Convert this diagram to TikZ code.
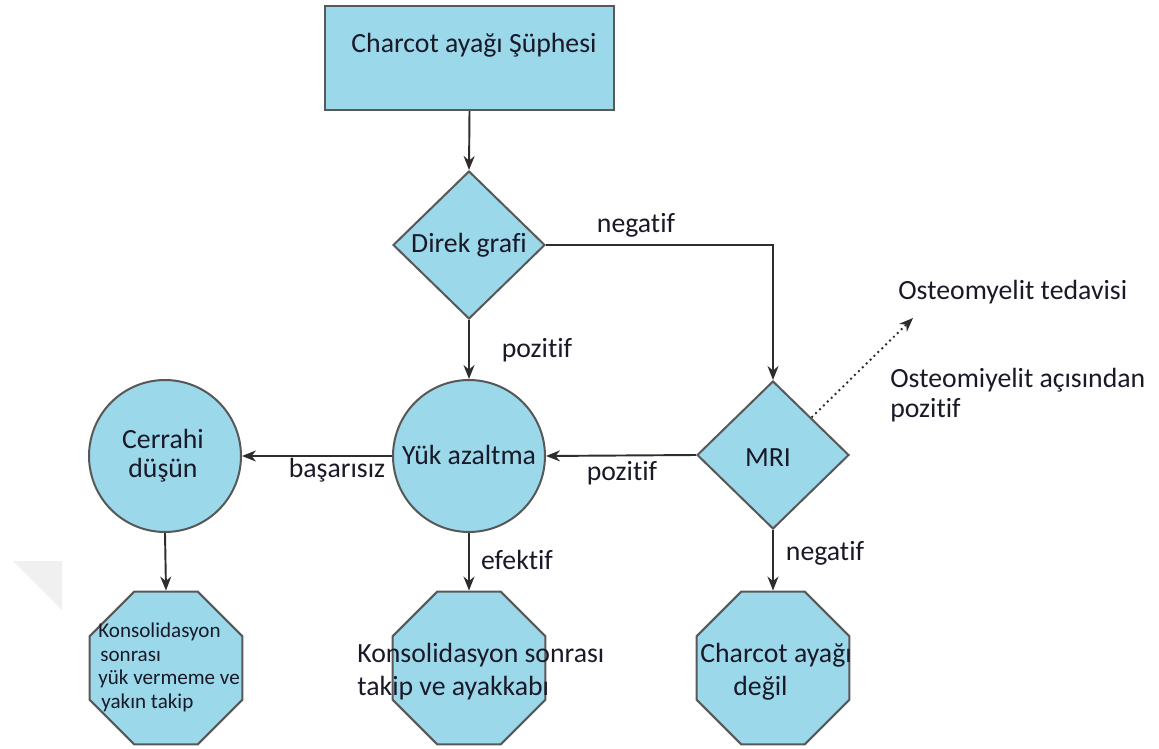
\documentclass[tikz,border=0pt]{standalone}
\usepackage{fontspec}
\setmainfont{Carlito}[Ligatures={NoCommon}]
\usetikzlibrary{shapes.geometric,arrows.meta}
\definecolor{boxfill}{RGB}{155,216,234}
\definecolor{boxline}{RGB}{88,88,88}
\definecolor{txt}{RGB}{25,25,40}
\definecolor{conn}{RGB}{45,45,45}
\definecolor{wm}{RGB}{240,240,240}
\begin{document}
\begin{tikzpicture}[x=0.02cm,y=-0.02cm,
 shapebox/.style={draw=boxline,fill=boxfill,line width=1.15pt,inner sep=0pt},
 rectbox/.style={shapebox,rectangle,minimum width=5.78cm,minimum height=2.08cm},
 decision/.style={shapebox,diamond,minimum width=3.04cm,minimum height=2.96cm},
 roundbox/.style={shapebox,circle,minimum size=3.04cm},
 octbox/.style={shapebox,regular polygon,regular polygon sides=8,minimum size=3.31cm},
 txtlabel/.style={text=txt,font=\fontsize{15.8}{17}\selectfont,inner sep=0pt},
 smalltext/.style={text=txt,font=\fontsize{12}{13.5}\selectfont,inner sep=0pt},
 flow/.style={draw=conn,line width=1.1pt,-{Stealth[length=0.28cm,width=0.22cm]}},
 dotflow/.style={flow,dotted}]
\useasboundingbox (0,0) rectangle (1159,749);
% faint watermark corner
\fill[wm] (13,561) -- (62,561) -- (62,610) -- cycle;

% shapes
\node[rectbox] (start) at (469.5,58) {};
\node[decision] (direk) at (469,245) {};
\node[roundbox] (yuk) at (469,456) {};
\node[decision] (mri) at (773,455) {};
\node[roundbox] (cerrahi) at (165,456) {};
\node[octbox] (octL) at (166,668) {};
\node[octbox] (octM) at (469,668) {};
\node[octbox] (octR) at (773,668) {};
\coordinate (osteo) at (913,318);

% texts inside shapes
\node[txtlabel] (tstart) at (474,45) {Charcot ayağı Şüphesi};
\node[txtlabel] (tdirek) at (469,245) {Direk grafi};
\node[txtlabel] (tyuk) at (469,455) {Yük azaltma};
\node[txtlabel] (tmri) at (768,458) {MRI};
\node[txtlabel,align=center,font=\fontsize{15.8}{16.5}\selectfont] (tcer) at (163,456) {Cerrahi\\düşün};
\node[smalltext,align=left,anchor=west] (toctL) at (98,667.5) {Konsolidasyon\\\hspace*{0.04cm}sonrası\\yük vermeme ve\\\hspace*{0.06cm}yakın takip};
\node[txtlabel,align=left,anchor=west,font=\fontsize{15.8}{18.8}\selectfont] (toctM) at (357,671.5) {Konsolidasyon sonrası\\takip ve ayakkabı};
\node[txtlabel,align=left,anchor=west,font=\fontsize{15.8}{18.8}\selectfont] (toctR) at (700,671.5) {Charcot ayağı\\\hspace*{0.66cm}değil};

% free texts
\node[txtlabel,anchor=west] (ttedavi) at (898,292) {Osteomyelit tedavisi};
\node[txtlabel,anchor=west,align=left,font=\fontsize{15.8}{17}\selectfont] (tpoz) at (890,395) {Osteomiyelit açısından\\pozitif};

% connectors
\draw[flow] (start.south) -- (direk.north);
\draw[flow] (direk.east) -| (mri.north);
\draw[flow] (direk.south) -- (yuk.north);
\draw[flow] (mri.west) -- (yuk.east);
\draw[flow] (yuk.west) -- (cerrahi.east);
\draw[flow] (cerrahi.south) -- (octL.north);
\draw[flow] (yuk.south) -- (octM.north);
\draw[flow] (mri.south) -- (octR.north);
\draw[dotflow] (mri.north east) -- (osteo);

% connector labels
\node[txtlabel] (lneg1) at (636,225) {negatif};
\node[txtlabel] (lpoz1) at (537,350) {pozitif};
\node[txtlabel] (lpoz2) at (622,473) {pozitif};
\node[txtlabel] (lbas) at (337,470) {başarısız};
\node[txtlabel] (lef) at (517,560) {efektif};
\node[txtlabel] (lneg2) at (825,553) {negatif};
\end{tikzpicture}
\end{document}
